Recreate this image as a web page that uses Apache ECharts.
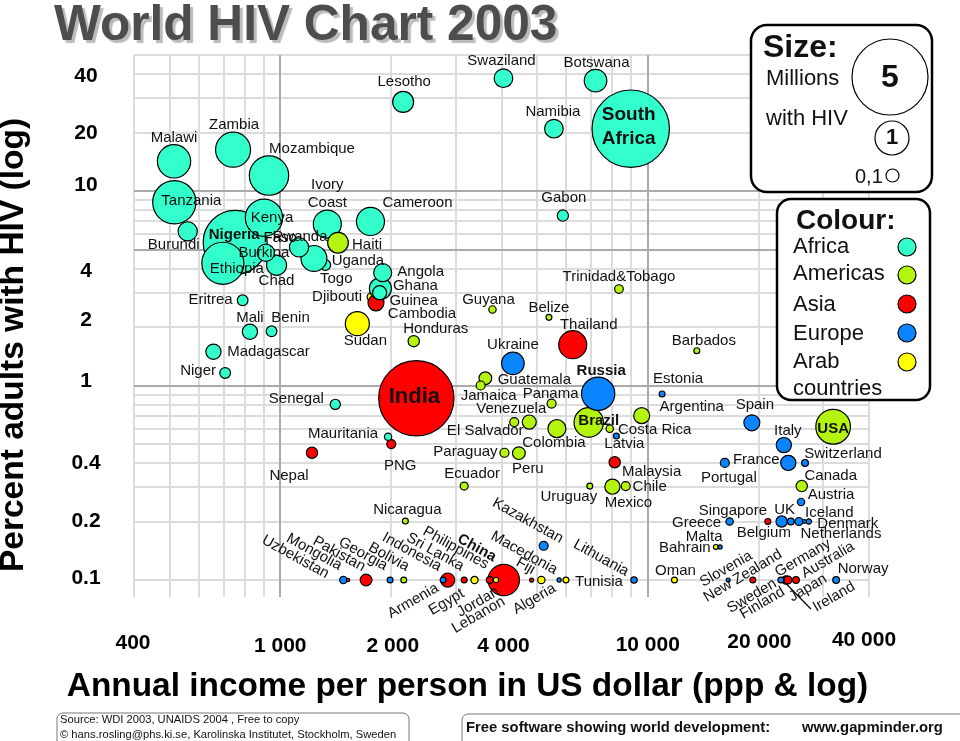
<!DOCTYPE html>
<html>
<head>
<meta charset="utf-8">
<title>World HIV Chart 2003</title>
<style>
    html, body { margin: 0; padding: 0; background: #fff; }
    #main { width: 960px; height: 741px; }
</style>
<script src="https://cdn.jsdelivr.net/npm/echarts@6/dist/echarts.min.js"></script>
</head>
<body>
<div id="main"></div>
<script>
// draw order is array order, so overlaps come out like the reference
var names = [
    'Nigeria', 'Ethiopia', 'South\nAfrica', 'India', 'Tanzania', 'Mozambique', 'Kenya', 'Zambia', 'USA', 'Malawi',
    'Brazil', 'Russia', 'Lebanon', 'China', 'Ivory\nCoast', 'Haiti', 'Cameroon', 'Thailand', 'Togo', 'Uganda',
    'Sudan', 'Ukraine', 'Botswana', 'Djibouti', 'Cambodia', 'Ghana', 'Lesotho', 'Swaziland', 'Namibia', 'Chad',
    'Burundi', 'Rwanda', 'Colombia', 'Angola', 'Burkina', 'Argentina', 'Spain', 'Mali', 'Madagascar', 'Mexico',
    'Italy', 'France', 'Guinea', 'Venezuela', 'Indonesia', 'Guatemala', 'Peru', 'Pakistan', 'Honduras', 'Nepal',
    'Malaysia', 'UK', 'Canada', 'Gabon', 'Eritrea', 'Benin', 'Niger', 'Senegal', 'Jamaica', 'Panama',
    'El Salvador', 'PNG', 'Paraguay', 'Chile', 'Portugal', 'Kazakhstan', 'Trinidad&Tobago', 'Ecuador', 'Netherlands', 'Guyana',
    'Mauritania', 'Uzbekistan', 'Costa Rica', 'Austria', 'Greece', 'Switzerland', 'Belgium', 'Egypt', 'Algeria', 'Philippines',
    'Norway', 'Germany', 'Finland', 'Ireland', 'Japan', 'Australia', 'Nicaragua', 'Belize', 'Barbados', 'Estonia',
    'Latvia', 'Uruguay', 'Singapore', 'Georgia', 'Bolivia', 'Armenia', 'Sri Lanka', 'Jordan', 'Tunisia', 'Lithuania',
    'Oman', 'New Zealand', 'Sweden', 'Denmark', 'Bahrain', 'Malta', 'Mongolia', 'Fiji', 'Macedonia', 'Slovenia',
    'Iceland'
];
var incomes = [
    754, 698, 8990, 2346, 515, 932, 903, 744, 31950, 514,
    6910, 7330, 4232, 4058, 1343, 1436, 1760, 6250, 1326, 1235,
    1621, 4296, 7210, 1767, 1822, 1873, 2160, 4050, 5555, 977,
    560, 1125, 5660, 1900, 914, 9630, 19200, 827, 658, 8015,
    23460, 24120, 1864, 4760, 2856, 3615, 4460, 1712, 2308, 1220,
    8130, 23140, 26250, 5875, 790, 947, 708, 1412, 3510, 5475,
    4332, 2005, 4075, 8710, 16210, 5210, 8350, 3166, 25790, 3780,
    1965, 1485, 7880, 26130, 16700, 26790, 24510, 3378, 5134, 3716,
    32550, 23770, 23540, 23920, 24070, 25310, 2190, 5385, 13600, 10940,
    8216, 6955, 21220, 1990, 2168, 2775, 3166, 3864, 5990, 9177,
    11820, 19320, 23030, 27430, 15320, 15740, 1530, 4830, 5740, 16550,
    26670
];
var prevalence = [
    5.44, 4.25, 20.9, 0.86, 8.75, 12, 7.29, 16.3, 0.614, 14.2,
    0.646, 0.907, 0.1, 0.1, 6.76, 5.42, 6.97, 1.62, 4.16, 4.5,
    2.08, 1.3, 36.9, 2.85, 2.66, 3.15, 28.7, 38, 20.9, 4.15,
    6.2, 5.13, 0.6, 3.8, 4.81, 0.7, 0.643, 1.89, 1.49, 0.302,
    0.494, 0.4, 3, 0.649, 0.1, 1.09, 0.449, 0.1, 1.69, 0.451,
    0.403, 0.2, 0.304, 7.47, 2.74, 1.9, 1.16, 0.8, 1, 0.807,
    0.649, 0.5, 0.451, 0.304, 0.4, 0.15, 3.13, 0.304, 0.2, 2.46,
    0.545, 0.1, 0.6, 0.252, 0.2, 0.4, 0.2, 0.1, 0.1, 0.1,
    0.1, 0.1, 0.1, 0.1, 0.1, 0.1, 0.201, 2.24, 1.51, 0.905,
    0.55, 0.304, 0.2, 0.1, 0.1, 0.1, 0.1, 0.1, 0.1, 0.1,
    0.1, 0.1, 0.1, 0.2, 0.148, 0.148, 0.1, 0.1, 0.1, 0.1,
    0.2
];
var hivMillions = [
    3.54, 1.53, 5.18, 4.9, 1.62, 1.34, 1.2, 1.06, 1.04, 0.96,
    0.75, 0.96, 0.03, 0.85, 0.68, 0.37, 0.68, 0.68, 0.1, 0.58,
    0.5, 0.44, 0.44, 0.055, 0.22, 0.42, 0.38, 0.3, 0.3, 0.35,
    0.32, 0.32, 0.28, 0.28, 0.26, 0.22, 0.22, 0.2, 0.2, 0.2,
    0.2, 0.2, 0.17, 0.17, 0.17, 0.14, 0.14, 0.12, 0.11, 0.11,
    0.11, 0.11, 0.11, 0.11, 0.1, 0.1, 0.1, 0.09, 0.07, 0.07,
    0.07, 0.07, 0.07, 0.07, 0.07, 0.07, 0.065, 0.055, 0.055, 0.047,
    0.047, 0.047, 0.047, 0.047, 0.047, 0.04, 0.04, 0.045, 0.047, 0.04,
    0.04, 0.06, 0.03, 0.015, 0.055, 0.04, 0.03, 0.03, 0.03, 0.03,
    0.03, 0.03, 0.03, 0.03, 0.03, 0.03, 0.03, 0.025, 0.03, 0.035,
    0.03, 0.03, 0.03, 0.025, 0.02, 0.014, 0.01, 0.014, 0.015, 0.014,
    0.012
];
// A africa, M americas, S asia, E europe, R arab
var regionCodes = [
    'A', 'A', 'A', 'S', 'A', 'A', 'A', 'A', 'M', 'A',
    'M', 'E', 'R', 'S', 'A', 'M', 'A', 'S', 'A', 'A',
    'R', 'E', 'A', 'R', 'S', 'A', 'A', 'A', 'A', 'A',
    'A', 'A', 'M', 'A', 'A', 'M', 'E', 'A', 'A', 'M',
    'E', 'E', 'A', 'M', 'S', 'M', 'M', 'S', 'M', 'S',
    'S', 'E', 'M', 'A', 'A', 'A', 'A', 'A', 'M', 'M',
    'M', 'S', 'M', 'M', 'E', 'E', 'M', 'M', 'E', 'M',
    'A', 'E', 'M', 'E', 'E', 'E', 'E', 'R', 'R', 'S',
    'E', 'E', 'E', 'E', 'S', 'S', 'M', 'M', 'M', 'E',
    'E', 'M', 'S', 'E', 'M', 'E', 'S', 'R', 'R', 'E',
    'R', 'S', 'E', 'E', 'R', 'E', 'S', 'S', 'E', 'E',
    'E'
];

var regionKeys = ['A', 'M', 'S', 'E', 'R'];
var regionLabels = ['Africa', 'Americas', 'Asia', 'Europe', 'Arab', 'countries'];
var regionColors = ['#33ffcc', '#b4f50f', '#ff0000', '#0a84ff', '#ffff00'];

var xTickValues = [400, 1000, 2000, 4000, 10000, 20000, 40000];
var xTickLabels = ['400', '1 000', '2 000', '4 000', '10 000', '20 000', '40 000'];
var yTickValues = [40, 20, 10, 4, 2, 1, 0.4, 0.2, 0.1];
var yTickLabels = ['40', '20', '10', '4', '2', '1', '0.4', '0.2', '0.1'];

var xGridMinor = [400, 500, 600, 700, 800, 900, 2000, 3000, 4000, 5000, 6000, 7000, 8000, 9000, 20000, 30000, 40000];
var xGridMajor = [1000, 10000];
var yGridMinor = [50, 40, 30, 20, 9, 8, 7, 6, 4, 3, 2, 0.9, 0.8, 0.7, 0.6, 0.5, 0.4, 0.3, 0.2, 0.1, 0.0818];
var yGridMajor = [10, 5, 1];

// pointer from the crowded 0.1 row down to the Ireland label
var leaderLine = [[23520, 0.098], [27800, 0.071]];

var sizeLegendValues = [5, 1];

var X_MIN = 400, X_MAX = 40000, Y_MIN = 0.0818, Y_MAX = 50;
var BUBBLE_UNIT = 17;   // radius in px of one million
var FONT = '"Liberation Sans", Arial, sans-serif';

// label centre relative to the bubble: dx, dy, rotate
var labelPlacement = {
    'Nigeria': [-1, -8], 'Ethiopia': [14, 6], 'South\nAfrica': [-2, -2], 'India': [-2, -1], 'Tanzania': [17, -1],
    'Mozambique': [43, -27], 'Kenya': [8, 0], 'Zambia': [1, -25], 'USA': [0, 2], 'Malawi': [0, -23],
    'Brazil': [10, -2], 'Russia': [3, -23], 'Lebanon': [-32, 35, 30], 'China': [-27, -32, -29], 'Ivory\nCoast': [0, -30],
    'Haiti': [29, 2], 'Cameroon': [47, -19], 'Thailand': [16, -20], 'Togo': [11, 14], 'Uganda': [44, 2],
    'Sudan': [8, 17], 'Ukraine': [0, -18], 'Botswana': [1, -18], 'Djibouti': [-34, 0], 'Cambodia': [46, 11],
    'Ghana': [35, -3], 'Lesotho': [1, -20], 'Swaziland': [-2, -17], 'Namibia': [-1, -17], 'Chad': [0, 16],
    'Burundi': [-14, 14], 'Rwanda': [1, -11], 'Colombia': [-3, 14], 'Angola': [38, -1], 'Burkina': [-2, 0],
    'Argentina': [50, -9], 'Spain': [3, -18], 'Mali': [0, -14], 'Madagascar': [55, 0], 'Mexico': [16, 16],
    'Italy': [4, -14], 'France': [-32, -3], 'Guinea': [34, 8], 'Venezuela': [-18, -13], 'Indonesia': [-36, -28, -29],
    'Guatemala': [49, 2], 'Peru': [9, 16], 'Pakistan': [-27, -26, -29], 'Honduras': [22, -12], 'Nepal': [-23, 23],
    'Malaysia': [37, 10], 'UK': [3, -12], 'Canada': [29, -10], 'Gabon': [1, -18], 'Eritrea': [-32, 0],
    'Benin': [19, -13], 'Niger': [-27, -2], 'Senegal': [-39, -5], 'Jamaica': [8, 10], 'Panama': [-1, -10],
    'El Salvador': [-29, 9], 'PNG': [9, 22], 'Paraguay': [-39, -1], 'Chile': [24, 1], 'Portugal': [4, 15],
    'Kazakhstan': [-16, -25, -29], 'Trinidad&Tobago': [0, -12], 'Ecuador': [8, -12], 'Netherlands': [42, 12], 'Guyana': [-4, -10],
    'Mauritania': [-45, -3], 'Uzbekistan': [-48, -23, -29], 'Costa Rica': [45, 1], 'Austria': [30, -7], 'Greece': [-33, 1],
    'Switzerland': [38, -9], 'Belgium': [-27, 11], 'Egypt': [-28, 22, 30], 'Algeria': [-7, 19, 30], 'Philippines': [-34, -32, -29],
    'Norway': [27, -11], 'Germany': [17, -22, 30], 'Finland': [-22, 23, 30], 'Ireland': [47, 17, 30], 'Japan': [20, 8, 30],
    'Australia': [32, -20, 30], 'Nicaragua': [2, -11], 'Belize': [0, -10], 'Barbados': [7, -10], 'Estonia': [16, -15],
    'Latvia': [8, 8], 'Uruguay': [-21, 11], 'Singapore': [-35, -11], 'Georgia': [-27, -26, -29], 'Bolivia': [-15, -23, -29],
    'Armenia': [-30, 21, 30], 'Sri Lanka': [-29, -28, -29], 'Jordan': [-18, 22, 30], 'Tunisia': [33, 2], 'Lithuania': [-33, -22, -29],
    'Oman': [1, -9], 'New Zealand': [-10, -4, 31], 'Sweden': [-29, 16, 30], 'Denmark': [39, 2], 'Bahrain': [-31, 1],
    'Malta': [-16, -10], 'Mongolia': [-34, -28, -29], 'Fiji': [-6, -14, -29], 'Macedonia': [-35, -27, -29], 'Slovenia': [-2, -11, 30],
    'Iceland': [25, -9]
};
var boldLabels = ['Nigeria', 'South\nAfrica', 'India', 'USA', 'Brazil', 'Russia', 'China'];

// text nudges of the hand placed tick labels
var xTickOffsets = [[-1, 46], [0, 49], [2, 49], [2, 49], [0, 48], [1, 45], [-5, 43]];
var yTickOffsets = [[-48, 2], [-48, 1], [-48, -6], [-48, 3], [-48, -7], [-48, -4], [-48, 0], [-48, 0], [-48, -2]];

function bubbleRadius(millions) {
    return BUBBLE_UNIT * Math.sqrt(millions);
}

// the label offset turns with the label, so undo the rotation on it
function labelOffset(dx, dy, rotate) {
    var r = rotate * Math.PI / 180;
    return [dx * Math.cos(r) - dy * Math.sin(r), dx * Math.sin(r) + dy * Math.cos(r)];
}

function countryItem(i) {
    var place = labelPlacement[names[i]];
    var bold = boldLabels.indexOf(names[i]) >= 0;
    var big = names[i] === 'India' ? 22 : (names[i] === 'South\nAfrica' ? 19 : 15);
    return {
        name: names[i],
        value: [incomes[i], prevalence[i], hivMillions[i]],
        itemStyle: { color: regionColors[regionKeys.indexOf(regionCodes[i])] },
        label: {
            show: true,
            formatter: names[i],
            position: 'inside',
            offset: labelOffset(place[0], place[1], place[2] || 0),
            rotate: place[2] || 0,
            fontWeight: bold ? 'bold' : 'normal',
            fontSize: big,
            lineHeight: names[i] === 'South\nAfrica' ? 24 : 18
        }
    };
}

function gridLines(values, axisKey) {
    return values.map(function (v) {
        var d = {};
        d[axisKey] = v;
        return d;
    });
}

function tickItems(values, labels, offsets, isX) {
    return values.map(function (v, i) {
        return {
            value: isX ? [v, Y_MIN] : [X_MIN, v],
            label: { show: true, formatter: labels[i], offset: offsets[i] }
        };
    });
}

function boxGraphics() {
    var items = [];
    var text = function (s, x, y, size, weight, align) {
        items.push({
            type: 'text', silent: true, z: 20,
            style: { text: s, x: x, y: y, fill: '#111', font: (weight || 'normal') + ' ' + size + 'px ' + FONT,
                textAlign: align || 'left', textVerticalAlign: 'middle' }
        });
    };
    var box = function (x, y, w, h, r, lw, stroke) {
        items.push({
            type: 'rect', silent: true, z: 19,
            shape: { x: x, y: y, width: w, height: h, r: r },
            style: { fill: '#fff', stroke: stroke, lineWidth: lw }
        });
    };
    var dot = function (x, y, r, fill) {
        items.push({
            type: 'circle', silent: true, z: 20,
            shape: { cx: x, cy: y, r: r },
            style: { fill: fill, stroke: '#000', lineWidth: 1.2 }
        });
    };

    box(751, 25, 181, 167, 16, 2.5, '#000');
    text('Size:', 763, 48, 32, 'bold');
    text('Millions', 766, 79, 22);
    text('with HIV', 766, 119, 22);
    dot(890, 77, bubbleRadius(sizeLegendValues[0]), '#fff');
    text('5', 890, 78, 32, 'bold', 'center');
    dot(892, 138, bubbleRadius(sizeLegendValues[1]), '#fff');
    text('1', 892, 138, 22, 'bold', 'center');
    text('0,1', 855, 177, 20);
    dot(892.5, 175.5, 6.5, '#fff');

    box(777, 199, 153, 201, 14, 2.5, '#000');
    text('Colour:', 796, 221, 28, 'bold');
    var rowY = [247, 274, 305, 334, 362, 389];
    regionLabels.forEach(function (s, i) { text(s, 793, rowY[i], 22); });
    var dotY = [247, 275, 304, 333, 362];
    regionColors.forEach(function (c, i) { dot(907, dotY[i], 9, c); });

    box(57, 713, 352, 40, 6, 1, '#777');
    text('Source: WDI 2003, UNAIDS 2004 , Free to copy', 60, 720, 11.2);
    text('\u00a9 hans.rosling@phs.ki.se, Karolinska Institutet, Stockholm, Sweden', 60, 735, 11.2);
    box(462, 714, 520, 40, 6, 1, '#777');
    text('Free software showing world development:', 466, 728, 14.8, 'bold');
    text('www.gapminder.org', 802, 728, 14.8, 'bold');
    return items;
}

function getOption() {
    var bubbleData = names.map(function (n, i) { return countryItem(i); });
    var noteLabel = { color: '#000', fontFamily: FONT, position: 'inside', align: 'center', verticalAlign: 'middle' };
    return {
        animation: false,
        textStyle: { fontFamily: FONT, color: '#111' },
        title: {
            text: 'World HIV Chart 2003',
            left: 49,
            top: -4,
            textStyle: {
                fontFamily: FONT, fontSize: 49.6, fontWeight: 'bold', color: '#4d4d4d',
                textShadowColor: '#bbb', textShadowBlur: 1, textShadowOffsetX: 3, textShadowOffsetY: 3
            }
        },
        grid: { left: 134, right: 91, top: 55, bottom: 144, outerBoundsMode: 'none', containLabel: false },
        xAxis: {
            type: 'log', logBase: 10, min: X_MIN, max: X_MAX,
            name: 'Annual income per person in US dollar (ppp & log)',
            nameLocation: 'middle', nameGap: 73,
            nameTextStyle: { fontFamily: FONT, fontSize: 33.4, fontWeight: 'bold', color: '#000', padding: [0, 68, 0, 0] },
            axisLine: { show: false }, axisTick: { show: false },
            axisLabel: { show: false }, splitLine: { show: false }, minorSplitLine: { show: false }
        },
        yAxis: {
            type: 'log', logBase: 10, min: Y_MIN, max: Y_MAX,
            name: 'Percent adults with HIV (log)',
            nameLocation: 'middle', nameGap: 103,
            nameTextStyle: { fontFamily: FONT, fontSize: 33.5, fontWeight: 'bold', color: '#000', padding: [0, 38, 0, 0] },
            axisLine: { show: false }, axisTick: { show: false },
            axisLabel: { show: false }, splitLine: { show: false }, minorSplitLine: { show: false }
        },
        series: [
            {
                name: 'grid minor', type: 'scatter', data: [], z: 1, clip: false, silent: true,
                markLine: {
                    silent: true, symbol: 'none', animation: false, label: { show: false }, z: 1,
                    lineStyle: { color: '#dcdcdc', width: 2, type: 'solid' },
                    data: gridLines(xGridMinor, 'xAxis').concat(gridLines(yGridMinor, 'yAxis'))
                }
            },
            {
                name: 'grid major', type: 'scatter', data: [], z: 1, clip: false, silent: true,
                markLine: {
                    silent: true, symbol: 'none', animation: false, label: { show: false }, z: 2,
                    lineStyle: { color: '#aaaaaa', width: 2, type: 'solid' },
                    data: gridLines(xGridMajor, 'xAxis').concat(gridLines(yGridMajor, 'yAxis'))
                }
            },
            {
                name: 'leader', type: 'line', z: 3, clip: false, silent: true, showSymbol: false, symbol: 'none',
                lineStyle: { color: '#000', width: 1.2 },
                data: leaderLine
            },
            {
                name: 'countries', type: 'scatter', z: 3, clip: false, silent: true,
                symbolSize: function (v) { return 2 * bubbleRadius(v[2]); },
                itemStyle: { borderColor: '#000', borderWidth: 1.2, opacity: 1 },
                label: { color: '#111', fontFamily: FONT, align: 'center', verticalAlign: 'middle' },
                emphasis: { disabled: true },
                data: bubbleData
            },
            {
                // second half of "Burkina Faso" sits away from the bubble
                name: 'notes', type: 'scatter', z: 4, clip: false, silent: true, symbolSize: 0,
                itemStyle: { opacity: 1 },
                label: Object.assign({ show: true, fontSize: 15 }, noteLabel),
                data: [{ value: [1000, 5.71], label: { formatter: 'Faso' } }]
            },
            {
                name: 'x ticks', type: 'scatter', z: 4, clip: false, silent: true, symbolSize: 0,
                itemStyle: { opacity: 1 },
                label: Object.assign({ fontSize: 21, fontWeight: 'bold' }, noteLabel),
                data: tickItems(xTickValues, xTickLabels, xTickOffsets, true)
            },
            {
                name: 'y ticks', type: 'scatter', z: 4, clip: false, silent: true, symbolSize: 0,
                itemStyle: { opacity: 1 },
                label: Object.assign({ fontSize: 21, fontWeight: 'bold' }, noteLabel),
                data: tickItems(yTickValues, yTickLabels, yTickOffsets, false)
            }
        ],
        graphic: boxGraphics()
    };
}

var chart = echarts.init(document.getElementById('main'));
chart.setOption(getOption());
</script>
</body>
</html>
